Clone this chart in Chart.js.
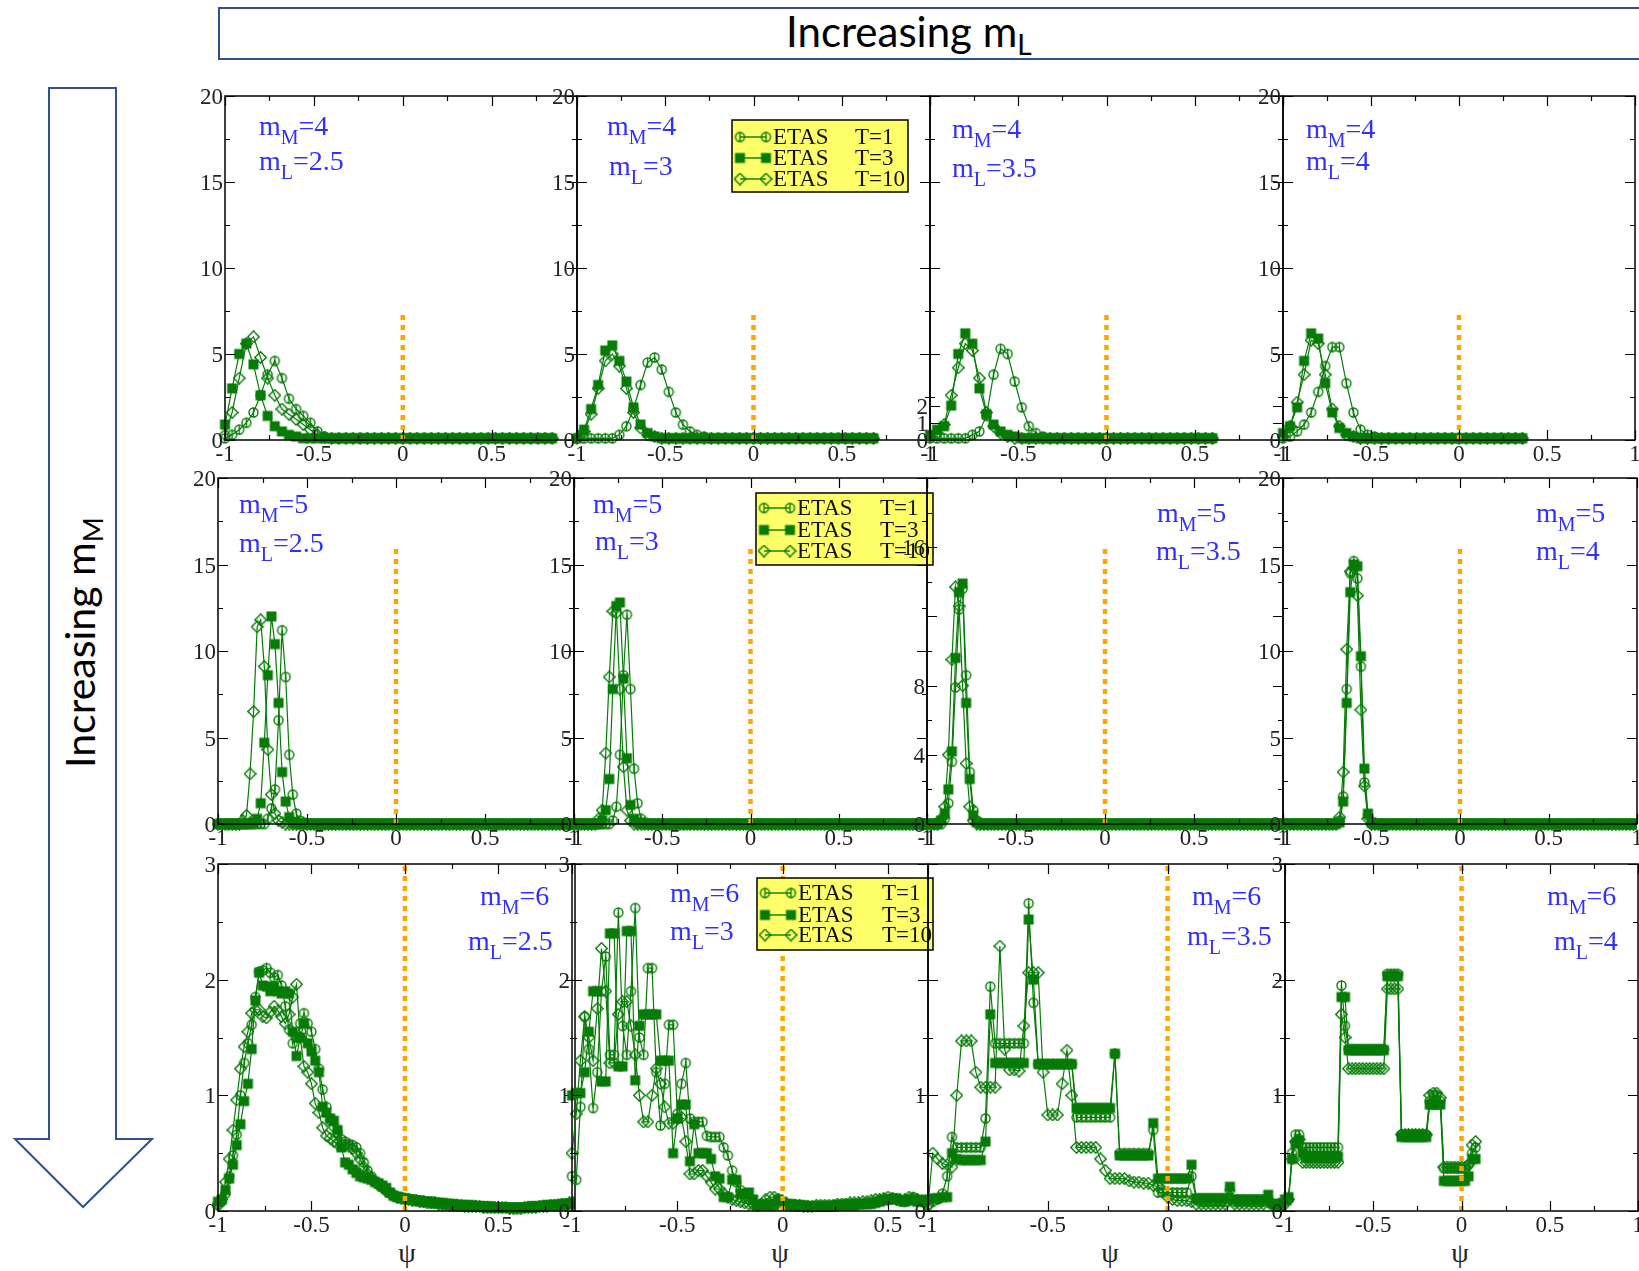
<!DOCTYPE html>
<html>
<head>
<meta charset="utf-8">
<title>ETAS psi distributions</title>
<script src="https://cdn.jsdelivr.net/npm/chart.js@4.4.1/dist/chart.umd.min.js"></script>
<style>
  html, body { margin: 0; padding: 0; background: #fff; }
  #page { position: relative; width: 1639px; height: 1271px; overflow: hidden; background: #fff; }
  #page canvas { position: absolute; }
  #deco { position: absolute; left: 0; top: 0; }
</style>
</head>
<body>
<div id="page">
  <svg id="deco" width="1639" height="1271" xmlns="http://www.w3.org/2000/svg">
    <rect x="219" y="8" width="1460" height="51" fill="#fff" stroke="#2f528f" stroke-width="2"/>
    <text x="786" y="47" font-family="Lato, 'Open Sans', sans-serif" font-size="42" fill="#000">Increasing m<tspan dy="8" font-size="28">L</tspan></text>
    <polygon points="49,88 116,88 116,1139 152,1139 83,1207 15,1139 49,1139" fill="#fff" stroke="#2f528f" stroke-width="2"/>
    <text transform="translate(95,768) rotate(-90)" font-family="Lato, 'Open Sans', sans-serif" font-size="41" fill="#000">Increasing m<tspan dy="8" font-size="27">M</tspan></text>
    <g font-family="'Liberation Serif', serif" font-size="28" fill="#222" text-anchor="middle">
      <text x="407" y="1262">ψ</text>
      <text x="780" y="1262">ψ</text>
      <text x="1110" y="1262">ψ</text>
      <text x="1460" y="1262">ψ</text>
    </g>
  </svg>
</div>
<script>
/* ETAS psi histograms, 3 x 4 panels */

// psi grids: coarse (step 0.04) for the top row, fine (step 0.02) for the others
const PSI_COARSE = [
  -1,-0.96,-0.92,-0.88,-0.84,-0.8,-0.76,-0.72,-0.68,-0.64,
  -0.6,-0.56,-0.52,-0.48,-0.44,-0.4,-0.36,-0.32,-0.28,-0.24,
  -0.2,-0.16,-0.12,-0.08,-0.04,0,0.04,0.08,0.12,0.16,
  0.2,0.24,0.28,0.32,0.36,0.4,0.44,0.48,0.52,0.56,
  0.6,0.64,0.68,0.72,0.76,0.8,0.84,0.88,0.92,0.96,
  1
];
const PSI_FINE = [
  -1,-0.98,-0.96,-0.94,-0.92,-0.9,-0.88,-0.86,-0.84,-0.82,
  -0.8,-0.78,-0.76,-0.74,-0.72,-0.7,-0.68,-0.66,-0.64,-0.62,
  -0.6,-0.58,-0.56,-0.54,-0.52,-0.5,-0.48,-0.46,-0.44,-0.42,
  -0.4,-0.38,-0.36,-0.34,-0.32,-0.3,-0.28,-0.26,-0.24,-0.22,
  -0.2,-0.18,-0.16,-0.14,-0.12,-0.1,-0.08,-0.06,-0.04,-0.02,
  0,0.02,0.04,0.06,0.08,0.1,0.12,0.14,0.16,0.18,
  0.2,0.22,0.24,0.26,0.28,0.3,0.32,0.34,0.36,0.38,
  0.4,0.42,0.44,0.46,0.48,0.5,0.52,0.54,0.56,0.58,
  0.6,0.62,0.64,0.66,0.68,0.7,0.72,0.74,0.76,0.78,
  0.8,0.82,0.84,0.86,0.88,0.9,0.92,0.94,0.96,0.98,
  1
];

// ---- row 1 (m_M = 4) ----
const R1P1_T1 = [
  0.1,0.3,0.6,1.0,1.6,2.6,3.8,4.6,3.6,2.4,
  1.8,1.4,1.0,0.5,0.2,0.1,0.1,0.1,0.1,0.1,
  0.1,0.1,0.1,0.1,0.1,0.1,0.1,0.1,0.1,0.1,
  0.1,0.1,0.1,0.1,0.1,0.1,0.1,0.1,0.1,0.1,
  0.1,0.1,0.1,0.1,0.1,0.1,0.1
];
const R1P1_T3 = [
  0.9,3.0,5.0,5.6,4.4,2.6,1.4,0.8,0.5,0.3,
  0.2,0.1,0.1,0.1,0.1,0.1,0.1,0.1,0.1,0.1,
  0.1,0.1,0.1,0.1,0.1,0.1,0.1,0.1,0.1,0.1,
  0.1,0.1,0.1,0.1,0.1,0.1,0.1,0.1,0.1,0.1,
  0.1,0.1,0.1,0.1,0.1,0.1,0.1
];
const R1P1_T10 = [
  0.3,1.6,3.6,5.6,6.0,4.8,3.6,2.6,1.8,1.5,
  1.2,0.9,0.6,0.3,0.15,0.1,0.1,0.1,0.1,0.1,
  0.1,0.1,0.1,0.1,0.1,0.1,0.1,0.1,0.1,0.1,
  0.1,0.1,0.1,0.1,0.1,0.1,0.1,0.1,0.1,0.1,
  0.1,0.1,0.1,0.1,0.1,0.1,0.1
];
const R1P2_T1 = [
  0.1,0.1,0.1,0.1,0.1,0.1,0.3,0.8,1.8,3.2,
  4.5,4.8,4.1,2.8,1.6,0.9,0.5,0.3,0.2,0.1,
  0.1,0.1,0.1,0.1,0.1,0.1,0.1,0.1,0.1,0.1,
  0.1,0.1,0.1,0.1,0.1,0.1,0.1,0.1,0.1,0.1,
  0.1,0.1,0.1
];
const R1P2_T3 = [
  0.1,0.6,1.8,3.2,5.2,5.5,4.6,3.4,1.9,0.9,
  0.4,0.2,0.1,0.1,0.1,0.1,0.1,0.1,0.1,0.1,
  0.1,0.1,0.1,0.1,0.1,0.1,0.1,0.1,0.1,0.1,
  0.1,0.1,0.1,0.1,0.1,0.1,0.1,0.1,0.1,0.1,
  0.1,0.1,0.1
];
const R1P2_T10 = [
  0.1,0.5,1.5,3.0,4.6,5.0,4.3,3.0,1.6,0.7,
  0.3,0.2,0.1,0.1,0.1,0.1,0.1,0.1,0.1,0.1,
  0.1,0.1,0.1,0.1,0.1,0.1,0.1,0.1,0.1,0.1,
  0.1,0.1,0.1,0.1,0.1,0.1,0.1,0.1,0.1,0.1,
  0.1,0.1,0.1
];
const R1P3_T1 = [
  0.1,0.1,0.1,0.1,0.1,0.1,0.3,0.5,1.4,3.8,
  5.3,5.0,3.4,1.9,0.8,0.4,0.2,0.1,0.1,0.1,
  0.1,0.1,0.1,0.1,0.1,0.1,0.1,0.1,0.1,0.1,
  0.1,0.1,0.1,0.1,0.1,0.1,0.1,0.1,0.1,0.1,
  0.1
];
const R1P3_T3 = [
  0.3,0.6,0.8,2.0,5.0,6.2,5.6,3.0,1.5,0.9,
  0.5,0.3,0.2,0.1,0.1,0.1,0.1,0.1,0.1,0.1,
  0.1,0.1,0.1,0.1,0.1,0.1,0.1,0.1,0.1,0.1,
  0.1,0.1,0.1,0.1,0.1,0.1,0.1,0.1,0.1,0.1,
  0.1
];
const R1P3_T10 = [
  0.2,0.4,0.9,2.6,4.2,5.6,5.2,3.6,1.6,0.8,
  0.4,0.2,0.1,0.1,0.1,0.1,0.1,0.1,0.1,0.1,
  0.1,0.1,0.1,0.1,0.1,0.1,0.1,0.1,0.1,0.1,
  0.1,0.1,0.1,0.1,0.1,0.1,0.1,0.1,0.1,0.1,
  0.1
];
const R1P4_T1 = [
  0.1,0.2,0.5,0.9,1.6,2.8,4.3,5.4,5.4,3.3,
  1.6,0.6,0.3,0.2,0.1,0.1,0.1,0.1,0.1,0.1,
  0.1,0.1,0.1,0.1,0.1,0.1,0.1,0.1,0.1,0.1,
  0.1,0.1,0.1,0.1,0.1
];
const R1P4_T3 = [
  0.4,0.8,1.9,4.6,6.2,5.9,3.3,1.6,0.7,0.4,
  0.2,0.1,0.1,0.1,0.1,0.1,0.1,0.1,0.1,0.1,
  0.1,0.1,0.1,0.1,0.1,0.1,0.1,0.1,0.1,0.1,
  0.1,0.1,0.1,0.1,0.1
];
const R1P4_T10 = [
  0.2,0.8,2.2,3.8,5.8,5.6,3.8,1.8,0.8,0.3,
  0.2,0.1,0.1,0.1,0.1,0.1,0.1,0.1,0.1,0.1,
  0.1,0.1,0.1,0.1,0.1,0.1,0.1,0.1,0.1,0.1,
  0.1,0.1,0.1,0.1,0.1
];

// ---- row 2 (m_M = 5) ----
const R2P1_T1 = [
  0,0,0,0,0,0,0,0,0,0,
  0,0,0,0,0.3,0.9,2.0,6.0,11.2,8.5,
  4.0,1.7,0.6,0.2,0.1,0,0,0,0,0,
  0,0,0,0,0,0,0,0,0,0,
  0,0,0,0,0,0,0,0,0,0,
  0,0,0,0,0,0,0,0,0,0,
  0,0,0,0,0,0,0,0,0,0,
  0,0,0,0,0,0,0,0,0,0,
  0,0,0,0,0,0,0,0,0,0,
  0,0,0,0,0,0,0,0,0,0,
  0
];
const R2P1_T3 = [
  0,0,0,0,0,0,0,0,0,0,
  0.1,0.3,1.2,4.7,8.6,12.0,10.4,7.0,3.0,1.3,
  0.4,0.1,0,0,0,0,0,0,0,0,
  0,0,0,0,0,0,0,0,0,0,
  0,0,0,0,0,0,0,0,0,0,
  0,0,0,0,0,0,0,0,0,0,
  0,0,0,0,0,0,0,0,0,0,
  0,0,0,0,0,0,0,0,0,0,
  0,0,0,0,0,0,0,0,0,0,
  0,0,0,0,0,0,0,0,0,0,
  0
];
const R2P1_T10 = [
  0,0,0,0,0,0,0,0.2,0.5,2.9,
  6.5,11.4,11.8,9.1,4.3,1.7,0.6,0.2,0.1,0,
  0,0,0,0,0,0,0,0,0,0,
  0,0,0,0,0,0,0,0,0,0,
  0,0,0,0,0,0,0,0,0,0,
  0,0,0,0,0,0,0,0,0,0,
  0,0,0,0,0,0,0,0,0,0,
  0,0,0,0,0,0,0,0,0,0,
  0,0,0,0,0,0,0,0,0,0,
  0,0,0,0,0,0,0,0,0,0,
  0
];
const R2P2_T1 = [
  0,0,0,0,0,0,0,0,0,0,
  0,0.2,1.0,4.0,8.6,12.1,7.8,3.2,1.2,0.3,
  0.1,0,0,0,0,0,0,0,0,0,
  0,0,0,0,0,0,0,0,0,0,
  0,0,0,0,0,0,0,0,0,0,
  0,0,0,0,0,0,0,0,0,0,
  0,0,0,0,0,0,0,0,0,0,
  0,0,0,0,0,0,0,0,0,0,
  0,0,0,0,0,0,0,0,0,0,
  0,0,0,0,0,0,0,0,0,0,
  0
];
const R2P2_T3 = [
  0,0,0,0,0,0,0,0,0.2,0.8,
  2.6,7.8,12.6,12.8,8.4,3.8,1.1,0.3,0.1,0,
  0,0,0,0,0,0,0,0,0,0,
  0,0,0,0,0,0,0,0,0,0,
  0,0,0,0,0,0,0,0,0,0,
  0,0,0,0,0,0,0,0,0,0,
  0,0,0,0,0,0,0,0,0,0,
  0,0,0,0,0,0,0,0,0,0,
  0,0,0,0,0,0,0,0,0,0,
  0,0,0,0,0,0,0,0,0,0,
  0
];
const R2P2_T10 = [
  0,0,0,0,0,0,0,0.3,0.8,4.1,
  8.5,12.3,12.2,7.8,3.3,0.8,0.2,0,0,0,
  0,0,0,0,0,0,0,0,0,0,
  0,0,0,0,0,0,0,0,0,0,
  0,0,0,0,0,0,0,0,0,0,
  0,0,0,0,0,0,0,0,0,0,
  0,0,0,0,0,0,0,0,0,0,
  0,0,0,0,0,0,0,0,0,0,
  0,0,0,0,0,0,0,0,0,0,
  0,0,0,0,0,0,0,0,0,0,
  0
];
const R2P3_T1 = [
  0,0,0,0,0,0.3,1.2,3.6,7.9,12.4,
  13.6,8.6,3.0,0.8,0.2,0,0,0,0,0,
  0,0,0,0,0,0,0,0,0,0,
  0,0,0,0,0,0,0,0,0,0,
  0,0,0,0,0,0,0,0,0,0,
  0,0,0,0,0,0,0,0,0,0,
  0,0,0,0,0,0,0,0,0,0,
  0,0,0,0,0,0,0,0,0,0,
  0,0,0,0,0,0,0,0,0,0,
  0,0,0,0,0,0,0,0,0,0,
  0
];
const R2P3_T3 = [
  0,0,0,0,0.2,0.6,2.0,4.2,9.6,13.4,
  13.9,7.0,2.6,0.5,0.1,0,0,0,0,0,
  0,0,0,0,0,0,0,0,0,0,
  0,0,0,0,0,0,0,0,0,0,
  0,0,0,0,0,0,0,0,0,0,
  0,0,0,0,0,0,0,0,0,0,
  0,0,0,0,0,0,0,0,0,0,
  0,0,0,0,0,0,0,0,0,0,
  0,0,0,0,0,0,0,0,0,0,
  0,0,0,0,0,0,0,0,0,0,
  0
];
const R2P3_T10 = [
  0,0,0,0,0.3,1.0,4.0,9.5,13.7,12.6,
  8.0,3.5,1.0,0.2,0,0,0,0,0,0,
  0,0,0,0,0,0,0,0,0,0,
  0,0,0,0,0,0,0,0,0,0,
  0,0,0,0,0,0,0,0,0,0,
  0,0,0,0,0,0,0,0,0,0,
  0,0,0,0,0,0,0,0,0,0,
  0,0,0,0,0,0,0,0,0,0,
  0,0,0,0,0,0,0,0,0,0,
  0,0,0,0,0,0,0,0,0,0,
  0
];
const R2P4_T1 = [
  0,0,0,0,0,0,0,0,0,0,
  0,0,0,0,0,0,0.2,1.6,7.8,14.5,
  15.2,14.2,9.1,2.4,0.5,0,0,0,0,0,
  0,0,0,0,0,0,0,0,0,0,
  0,0,0,0,0,0,0,0,0,0,
  0,0,0,0,0,0,0,0,0,0,
  0,0,0,0,0,0,0,0,0,0,
  0,0,0,0,0,0,0,0,0,0,
  0,0,0,0,0,0,0,0,0,0,
  0,0,0,0,0,0,0,0,0,0,
  0
];
const R2P4_T3 = [
  0,0,0,0,0,0,0,0,0,0,
  0,0,0,0,0,0,0.1,1.3,7.0,13.4,
  15.0,14.9,9.7,3.2,0.6,0.1,0,0,0,0,
  0,0,0,0,0,0,0,0,0,0,
  0,0,0,0,0,0,0,0,0,0,
  0,0,0,0,0,0,0,0,0,0,
  0,0,0,0,0,0,0,0,0,0,
  0,0,0,0,0,0,0,0,0,0,
  0,0,0,0,0,0,0,0,0,0,
  0,0,0,0,0,0,0,0,0,0,
  0
];
const R2P4_T10 = [
  0,0,0,0,0,0,0,0,0,0,
  0,0,0,0,0,0,0.4,3.0,10.1,14.6,
  14.8,13.2,6.6,2.2,0.3,0,0,0,0,0,
  0,0,0,0,0,0,0,0,0,0,
  0,0,0,0,0,0,0,0,0,0,
  0,0,0,0,0,0,0,0,0,0,
  0,0,0,0,0,0,0,0,0,0,
  0,0,0,0,0,0,0,0,0,0,
  0,0,0,0,0,0,0,0,0,0,
  0,0,0,0,0,0,0,0,0,0,
  0
];

// ---- row 3 (m_M = 6) ----
const R3P1_T1 = [
  0.05,0.08,0.15,0.30,0.48,0.66,1.00,1.28,1.45,1.61,
  1.85,2.07,2.08,2.10,2.06,2.02,2.04,1.95,1.77,1.57,
  1.45,1.50,1.62,1.71,1.62,1.55,1.40,1.23,1.05,0.90,
  0.78,0.73,0.68,0.62,0.60,0.58,0.57,0.55,0.50,0.42,
  0.35,0.30,0.26,0.23,0.21,0.18,0.16,0.14,0.12,0.12,
  0.11,0.10,0.10,0.09,0.09,0.08,0.08,0.07,0.07,0.07,
  0.06,0.06,0.06,0.05,0.05,0.05,0.05,0.04,0.04,0.04,
  0.04,0.04,0.03,0.03,0.03,0.03,0.03,0.03,0.03,0.03,
  0.03,0.03,0.03,0.04,0.04,0.04,0.04,0.05,0.05,0.05,
  0.05,0.06,0.06,0.06,0.07,0.07
];
const R3P1_T3 = [
  0.08,0.10,0.18,0.28,0.40,0.57,0.75,0.95,1.10,1.40,
  1.82,2.06,1.95,1.94,1.90,1.94,1.90,1.88,1.90,1.88,
  1.55,1.34,1.50,1.62,1.45,1.38,1.30,1.20,0.90,0.85,
  0.80,0.78,0.70,0.55,0.42,0.40,0.36,0.33,0.30,0.29,
  0.28,0.27,0.25,0.24,0.22,0.20,0.16,0.13,0.12,0.11,
  0.11,0.10,0.10,0.09,0.09,0.08,0.08,0.08,0.07,0.07,
  0.07,0.06,0.06,0.06,0.05,0.05,0.05,0.05,0.05,0.04,
  0.04,0.04,0.04,0.04,0.03,0.03,0.03,0.03,0.03,0.03,
  0.03,0.03,0.03,0.03,0.04,0.04,0.04,0.04,0.05,0.05,
  0.05,0.05,0.05,0.06,0.06,0.06
];
const R3P1_T10 = [
  0.06,0.10,0.25,0.45,0.70,0.96,1.23,1.42,1.55,1.71,
  1.74,1.74,1.68,1.67,1.72,1.77,1.73,1.68,1.62,1.70,
  1.85,1.96,1.50,1.25,1.20,1.10,0.93,0.85,0.72,0.65,
  0.63,0.60,0.58,0.58,0.57,0.56,0.54,0.50,0.45,0.38,
  0.32,0.28,0.25,0.22,0.20,0.17,0.15,0.13,0.12,0.11,
  0.10,0.10,0.09,0.09,0.08,0.08,0.07,0.07,0.07,0.06,
  0.06,0.06,0.05,0.05,0.05,0.05,0.04,0.04,0.04,0.04,
  0.04,0.03,0.03,0.03,0.03,0.03,0.03,0.03,0.02,0.02,
  0.02,0.02,0.03,0.03,0.03,0.03,0.04,0.04,0.04,0.05,
  0.05,0.05,0.06,0.06,0.07,0.07
];
const R3P2_T1 = [
  0.30,0.27,0.90,1.68,1.40,0.89,1.20,1.90,2.20,1.35,
  1.35,2.58,1.60,1.35,1.90,2.62,1.50,1.35,2.10,2.10,
  1.20,0.74,1.10,1.61,1.61,0.84,1.10,1.28,0.80,0.77,
  0.77,0.77,0.65,0.64,0.64,0.64,0.55,0.48,0.35,0.25,
  0.18,0.12,0.10,0.06,0.05,0.05,0.05,0.05,0.06,0.10,
  0.07,0.05,0.05,0.05,0.04,0.04,0.04,0.04,0.04,0.04,
  0.04,0.04,0.05,0.05,0.05,0.06,0.06,0.06,0.06,0.06,
  0.07,0.07,0.08,0.09,0.10,0.10,0.11,0.10,0.09,0.08,
  0.10,0.12,0.10,0.09,0.08
];
const R3P2_T3 = [
  1.00,1.02,1.02,1.20,1.55,1.90,1.90,1.12,1.12,2.40,
  2.40,1.25,1.25,2.42,2.42,1.13,1.60,1.70,1.70,1.70,
  1.70,1.30,1.30,1.30,0.50,0.80,0.92,0.92,0.43,0.75,
  0.50,0.50,0.50,0.45,0.30,0.28,0.12,0.12,0.27,0.27,
  0.15,0.15,0.16,0.10,0.05,0.05,0.06,0.05,0.05,0.10,
  0.08,0.06,0.06,0.05,0.05,0.05,0.04,0.04,0.04,0.04,
  0.04,0.04,0.04,0.05,0.05,0.05,0.05,0.05,0.06,0.06,
  0.06,0.06,0.07,0.08,0.09,0.10,0.10,0.11,0.09,0.08,
  0.10,0.09,0.08,0.08,0.08
];
const R3P2_T10 = [
  0.50,0.84,1.30,1.68,1.50,1.30,1.75,2.27,1.90,1.28,
  1.28,1.70,1.81,1.81,1.60,1.35,1.00,0.77,0.77,1.00,
  1.23,1.10,0.90,0.76,0.76,0.80,0.81,0.60,0.32,0.32,
  0.35,0.35,0.30,0.25,0.19,0.19,0.15,0.12,0.10,0.09,
  0.08,0.07,0.06,0.06,0.05,0.06,0.10,0.12,0.12,0.10,
  0.08,0.06,0.05,0.05,0.05,0.04,0.04,0.04,0.05,0.05,
  0.05,0.05,0.05,0.06,0.06,0.06,0.07,0.07,0.07,0.08,
  0.08,0.09,0.10,0.10,0.11,0.12,0.11,0.10,0.09,0.10,
  0.12,0.11,0.10,0.09,0.08
];
const R3P3_T1 = [
  0.05,0.08,0.10,0.15,0.30,0.64,0.55,0.55,0.55,0.55,
  0.55,0.55,0.80,1.94,1.45,1.45,1.45,1.45,1.45,1.45,
  1.45,2.66,1.80,1.27,1.27,1.27,1.27,1.27,1.27,1.27,
  1.27,0.81,0.81,0.81,0.81,0.81,0.81,0.81,0.81,1.36,
  0.50,0.50,0.50,0.50,0.50,0.50,0.50,0.70,0.16,0.16,
  0.16,0.16,0.16,0.16,0.16,0.30,0.10,0.08,0.08,0.08,
  0.08,0.08,0.08,0.18,0.08,0.08,0.08,0.08,0.08,0.08,
  0.08,0.10,0.06,0.05,0.05,0.05
];
const R3P3_T3 = [
  0.10,0.11,0.11,0.12,0.12,0.50,0.45,0.44,0.44,0.44,
  0.44,0.44,0.60,1.70,1.28,1.28,1.28,1.28,1.28,1.28,
  1.28,2.52,2.00,1.27,1.27,1.27,1.27,1.27,1.27,1.27,
  1.27,0.89,0.89,0.89,0.89,0.89,0.89,0.89,0.89,1.36,
  0.48,0.48,0.48,0.48,0.48,0.48,0.48,0.76,0.28,0.28,
  0.28,0.28,0.28,0.28,0.28,0.40,0.11,0.11,0.11,0.11,
  0.11,0.11,0.11,0.21,0.10,0.10,0.10,0.10,0.10,0.10,
  0.10,0.14,0.06,0.06,0.07,0.07
];
const R3P3_T10 = [
  0.05,0.50,0.45,0.41,0.40,0.38,1.00,1.47,1.47,1.47,
  1.20,1.07,1.07,1.07,1.07,2.29,1.40,1.22,1.22,1.21,
  1.60,2.06,2.06,2.06,1.20,0.83,0.83,0.83,1.10,1.39,
  1.00,0.55,0.55,0.55,0.55,0.55,0.45,0.35,0.28,0.28,
  0.28,0.28,0.26,0.25,0.25,0.24,0.24,0.22,0.21,0.18,
  0.12,0.10,0.09,0.09,0.09,0.08,0.06,0.06,0.06,0.06,
  0.06,0.06,0.06,0.10,0.06,0.06,0.06,0.06,0.06,0.06,
  0.06,0.08,0.05,0.05,0.05,0.05
];
const R3P4_T1 = [
  0.08,0.10,0.50,0.66,0.66,0.55,0.55,0.55,0.55,0.55,
  0.55,0.55,0.55,0.55,0.55,0.55,1.95,1.60,1.40,1.40,
  1.40,1.40,1.40,1.40,1.40,1.40,1.40,1.40,1.40,2.05,
  2.05,2.05,2.05,0.66,0.66,0.66,0.66,0.66,0.66,0.66,
  0.66,0.95,1.00,1.00,0.95,0.37,0.37,0.37,0.37,0.37,
  0.37,0.37,0.40,0.50,0.55
];
const R3P4_T3 = [
  0.10,0.12,0.45,0.58,0.61,0.50,0.47,0.47,0.47,0.47,
  0.47,0.47,0.47,0.47,0.47,0.47,1.85,1.85,1.39,1.39,
  1.39,1.39,1.39,1.39,1.39,1.39,1.39,1.39,1.39,2.03,
  2.03,2.03,2.03,0.64,0.64,0.64,0.64,0.64,0.64,0.64,
  0.64,0.92,0.92,0.92,0.92,0.26,0.26,0.26,0.26,0.26,
  0.26,0.26,0.30,0.45,0.45
];
const R3P4_T10 = [
  0.06,0.10,0.45,0.60,0.62,0.42,0.42,0.42,0.42,0.42,
  0.42,0.42,0.42,0.42,0.42,0.42,1.70,1.50,1.23,1.23,
  1.23,1.23,1.23,1.23,1.23,1.23,1.23,1.23,1.23,1.92,
  1.92,1.92,1.92,0.66,0.66,0.66,0.66,0.66,0.66,0.66,
  0.66,1.00,1.02,1.02,0.98,0.38,0.38,0.38,0.38,0.38,
  0.38,0.38,0.40,0.57,0.60
];

// axis ticks and labels
const X_TICKS = [-1, -0.75, -0.5, -0.25, 0, 0.25, 0.5, 0.75, 1];
const X_MAJOR = [-1, -0.5, 0, 0.5, 1];
const Y_TICKS_20 = [0, 2.5, 5, 7.5, 10, 12.5, 15, 17.5, 20];
const Y_MAJOR_20 = [0, 5, 10, 15, 20];
const Y_TICKS_ODD = [0, 2, 4, 6, 8, 10, 12, 14, 16, 18, 20];
const Y_MAJOR_ODD = [0, 4, 8, 12, 16, 20];
const Y_TICKS_3 = [0, 0.5, 1, 1.5, 2, 2.5, 3];
const Y_MAJOR_3 = [0, 1, 2, 3];
const Y_MAX = [20, 20, 3];
const GUIDE_TOP = [7.4, 15.9, 3];   // height of the dashed psi = 0 marker per row

const M_M = ['4', '5', '6'];
const M_L = ['2.5', '3', '3.5', '4'];
const LEGEND_NAME = ['ETAS', 'ETAS', 'ETAS'];
const LEGEND_T = ['T=1', 'T=3', 'T=10'];

const SERIES = [
  [R1P1_T1, R1P1_T3, R1P1_T10], [R1P2_T1, R1P2_T3, R1P2_T10], [R1P3_T1, R1P3_T3, R1P3_T10], [R1P4_T1, R1P4_T3, R1P4_T10],
  [R2P1_T1, R2P1_T3, R2P1_T10], [R2P2_T1, R2P2_T3, R2P2_T10], [R2P3_T1, R2P3_T3, R2P3_T10], [R2P4_T1, R2P4_T3, R2P4_T10],
  [R3P1_T1, R3P1_T3, R3P1_T10], [R3P2_T1, R3P2_T3, R3P2_T10], [R3P3_T1, R3P3_T3, R3P3_T10], [R3P4_T1, R3P4_T3, R3P4_T10]
];

// panel placement on the page (px) and the visible psi range
const PANELS = [
  { row: 0, col: 0, left: 225, right: 577, top: 96, bottom: 440, xMax: 0.98, yLabels: [0, 5, 10, 15, 20], ann: [259, 135, 259, 170] },
  { row: 0, col: 1, left: 577, right: 930, top: 96, bottom: 440, xMax: 1, yLabels: [0, 5, 10, 15, 20], ann: [607, 135, 609, 175],
    legend: { x: 732, y: 120, w: 176, h: 72, rows: [137, 158, 179], s1: 740, s2: 766, tx: 773, tt: 855 } },
  { row: 0, col: 2, left: 930, right: 1283, top: 96, bottom: 440, xMax: 1, yLabels: [0, 1, 2], extraMajor: [1, 2], ann: [952, 138, 952, 177] },
  { row: 0, col: 3, left: 1283, right: 1635, top: 96, bottom: 440, xMax: 1, yLabels: [0, 5, 10, 15, 20], ann: [1306, 138, 1306, 170] },
  { row: 1, col: 0, left: 218, right: 574, top: 478, bottom: 824, xMax: 1, yLabels: [0, 5, 10, 15, 20], ann: [239, 513, 239, 552] },
  { row: 1, col: 1, left: 574, right: 927, top: 478, bottom: 824, xMax: 1, yLabels: [0, 5, 10, 15, 20], ann: [593, 513, 595, 550],
    legend: { x: 756, y: 493, w: 177, h: 72, rows: [508, 530, 551], s1: 764, s2: 790, tx: 797, tt: 880 } },
  { row: 1, col: 2, left: 927, right: 1283, top: 478, bottom: 824, xMax: 1, yLabels: [0, 4, 8, 16], odd: true, ann: [1157, 522, 1156, 560] },
  { row: 1, col: 3, left: 1283, right: 1637, top: 478, bottom: 824, xMax: 1, yLabels: [0, 5, 10, 15, 20], ann: [1536, 522, 1536, 560] },
  { row: 2, col: 0, left: 218, right: 575, top: 864, bottom: 1211, xMax: 0.91, yLabels: [0, 1, 2, 3], ann: [480, 905, 468, 950] },
  { row: 2, col: 1, left: 572, right: 928, top: 864, bottom: 1211, xMax: 0.69, yLabels: [0, 1, 2, 3], ann: [670, 902, 670, 940],
    legend: { x: 757, y: 878, w: 176, h: 72, rows: [893, 915, 935], s1: 765, s2: 791, tx: 798, tt: 882 } },
  { row: 2, col: 2, left: 928, right: 1285, top: 864, bottom: 1211, xMax: 0.49, yLabels: [0, 1], ann: [1192, 905, 1187, 945] },
  { row: 2, col: 3, left: 1285, right: 1638, top: 864, bottom: 1211, xMax: 1, yLabels: [0, 1, 2, 3], ann: [1547, 905, 1554, 950] }
];

const GREEN = '#067c06';
const ORANGE = '#ffa500';
const ANN_BLUE = '#3030ff';
const TICK_FONT = '23px "Liberation Serif", serif';
const M = { l: 55, r: 10, t: 16, b: 32 };

function marker(kind) {
  const c = document.createElement('canvas');
  c.width = 13; c.height = 13;
  const g = c.getContext('2d');
  g.strokeStyle = GREEN; g.fillStyle = GREEN; g.lineWidth = 1.4;
  if (kind === 'square') {
    g.fillRect(1.5, 1.5, 10, 10);
  } else if (kind === 'diamond') {
    g.beginPath(); g.moveTo(6.5, 0.8); g.lineTo(12.2, 6.5); g.lineTo(6.5, 12.2); g.lineTo(0.8, 6.5); g.closePath(); g.stroke();
  } else {
    g.beginPath(); g.arc(6.5, 6.5, 4.5, 0, Math.PI * 2); g.stroke();
    g.beginPath(); g.moveTo(6.5, 1.5); g.lineTo(6.5, 11.5); g.stroke();
  }
  return c;
}
const MK = { t1: marker('circle'), t3: marker('square'), t10: marker('diamond') };

const toPoints = (grid, ys) => ys.map((v, i) => ({ x: grid[i], y: v }));

function drawAnn(ctx, x, y, sub, val) {
  ctx.font = '28px "Liberation Serif", serif';
  ctx.fillText('m', x, y);
  let w = ctx.measureText('m').width;
  ctx.font = '20px "Liberation Serif", serif';
  ctx.fillText(sub, x + w, y + 9);
  w += ctx.measureText(sub).width;
  ctx.font = '28px "Liberation Serif", serif';
  ctx.fillText('=' + val, x + w, y);
}

function panelPlugin(p, ox, oy) {
  return {
    id: 'frame',
    afterDraw(chart) {
      const { ctx, chartArea: a, scales: { x, y } } = chart;
      const yTicks = p.row === 2 ? Y_TICKS_3 : (p.odd ? Y_TICKS_ODD : Y_TICKS_20);
      const yMajor = (p.row === 2 ? Y_MAJOR_3 : (p.odd ? Y_MAJOR_ODD : Y_MAJOR_20)).concat(p.extraMajor || []);
      const yAll = yTicks.concat(p.extraMajor || []);
      ctx.save();

      // legend box
      if (p.legend) {
        const L = p.legend;
        ctx.fillStyle = '#ffff6a';
        ctx.fillRect(L.x - ox, L.y - oy, L.w, L.h);
        ctx.strokeStyle = '#000'; ctx.lineWidth = 1.5;
        ctx.strokeRect(L.x - ox, L.y - oy, L.w, L.h);
        const icons = [MK.t1, MK.t3, MK.t10];
        L.rows.forEach((ry, k) => {
          const yy = ry - oy;
          ctx.strokeStyle = GREEN; ctx.lineWidth = 1.4;
          ctx.beginPath(); ctx.moveTo(L.s1 - ox, yy); ctx.lineTo(L.s2 - ox, yy); ctx.stroke();
          ctx.drawImage(icons[k], L.s1 - ox - 6.5, yy - 6.5);
          ctx.drawImage(icons[k], L.s2 - ox - 6.5, yy - 6.5);
          ctx.fillStyle = '#111';
          ctx.font = '23px "Liberation Serif", serif';
          ctx.textAlign = 'left'; ctx.textBaseline = 'middle';
          ctx.fillText(LEGEND_NAME[k], L.tx - ox, yy + 1);
          ctx.fillText(LEGEND_T[k], L.tt - ox, yy + 1);
        });
      }

      // frame and inward ticks
      ctx.strokeStyle = '#000';
      ctx.lineWidth = 1.5;
      ctx.strokeRect(a.left, a.top, a.right - a.left, a.bottom - a.top);
      ctx.lineWidth = 1.2;
      ctx.beginPath();
      X_TICKS.forEach(v => {
        if (v < x.min - 1e-6 || v > x.max + 1e-6) return;
        const px = Math.round(x.getPixelForValue(v)) + 0.5;
        const len = X_MAJOR.includes(v) ? 10 : 5;
        ctx.moveTo(px, a.bottom); ctx.lineTo(px, a.bottom - len);
        ctx.moveTo(px, a.top); ctx.lineTo(px, a.top + len);
      });
      yAll.forEach(v => {
        const py = Math.round(y.getPixelForValue(v)) + 0.5;
        const len = yMajor.includes(v) ? 10 : 5;
        ctx.moveTo(a.left, py); ctx.lineTo(a.left + len, py);
        ctx.moveTo(a.right, py); ctx.lineTo(a.right - len, py);
      });
      ctx.stroke();

      // tick labels
      ctx.fillStyle = '#222';
      ctx.font = TICK_FONT;
      ctx.textBaseline = 'alphabetic';
      ctx.textAlign = 'center';
      X_MAJOR.forEach(v => {
        if (v > x.max + 0.005) return;
        ctx.fillText(String(v), x.getPixelForValue(v), a.bottom + 21);
      });
      ctx.textAlign = 'right';
      p.yLabels.forEach(v => ctx.fillText(String(v), a.left - 2, y.getPixelForValue(v) + 8));

      // m_M / m_L annotation
      ctx.fillStyle = ANN_BLUE;
      ctx.textAlign = 'left';
      drawAnn(ctx, p.ann[0] - ox, p.ann[1] - oy, 'M', M_M[p.row]);
      drawAnn(ctx, p.ann[2] - ox, p.ann[3] - oy, 'L', M_L[p.col]);
      ctx.restore();
    }
  };
}

function buildPanel(p, i) {
  const W = p.right - p.left, H = p.bottom - p.top;
  const ox = p.left - M.l, oy = p.top - M.t;
  const cv = document.createElement('canvas');
  cv.width = W + M.l + M.r;
  cv.height = H + M.t + M.b;
  cv.style.left = ox + 'px';
  cv.style.top = oy + 'px';
  document.getElementById('page').appendChild(cv);

  const grid = p.row === 0 ? PSI_COARSE : PSI_FINE;
  const s = SERIES[i];
  const clip = { left: 6, top: 0, right: 0, bottom: 8 };
  const common = { borderColor: GREEN, borderWidth: 1.2, pointRadius: 4, tension: 0, clip };

  new Chart(cv, {
    type: 'line',
    data: {
      datasets: [
        { label: 'psi = 0', data: [{ x: 0, y: 0 }, { x: 0, y: GUIDE_TOP[p.row] }], borderColor: ORANGE,
          borderWidth: 4.5, borderDash: [5, 5], pointRadius: 0, order: 0, clip: false },
        Object.assign({ label: 'ETAS T=1', data: toPoints(grid, s[0]), pointStyle: MK.t1, order: 1 }, common),
        Object.assign({ label: 'ETAS T=10', data: toPoints(grid, s[2]), pointStyle: MK.t10, order: 2 }, common),
        Object.assign({ label: 'ETAS T=3', data: toPoints(grid, s[1]), pointStyle: MK.t3, order: 3 }, common)
      ]
    },
    options: {
      responsive: false,
      animation: false,
      devicePixelRatio: 1,
      events: [],
      layout: { padding: { left: M.l, right: M.r, top: M.t, bottom: M.b } },
      plugins: { legend: { display: false }, tooltip: { enabled: false } },
      scales: {
        x: { type: 'linear', min: -1, max: p.xMax, display: false },
        y: { type: 'linear', min: 0, max: Y_MAX[p.row], display: false }
      }
    },
    plugins: [panelPlugin(p, ox, oy)]
  });
}

PANELS.forEach(buildPanel);
</script>
</body>
</html>
